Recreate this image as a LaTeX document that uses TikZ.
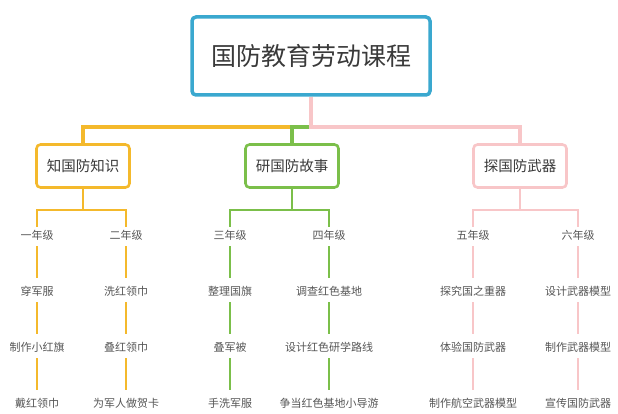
\documentclass[tikz,border=0pt]{standalone}
\usepackage{fontspec}
\setmainfont{Noto Sans CJK SC}
\usetikzlibrary{arrows.meta}
\definecolor{rootblue}{HTML}{3AA8CF}
\definecolor{kgold}{HTML}{F4B92C}
\definecolor{sgreen}{HTML}{7BBF4A}
\definecolor{wpink}{HTML}{F8C6C8}
\definecolor{txtgray}{HTML}{3A3A3A}
\definecolor{leafgray}{HTML}{555555}
\tikzset{%
  % Specifications for style of nodes:
            base1/.style = {rectangle, rounded corners=4pt, fill=white,
                           minimum width=93pt, minimum height=43pt,
                           text centered, text=txtgray, line width=2.6pt,
                           font=\fontsize{14.5pt}{16pt}\selectfont},
       rootbox/.style = {base1, draw=rootblue, minimum width=238pt,
                           minimum height=78pt, line width=3.5pt,
                           font=\fontsize{25pt}{28pt}\selectfont},
       goldbox/.style = {base1, draw=kgold},
       greenbox/.style = {base1, draw=sgreen},
       pinkbox/.style = {base1, draw=wpink},
       leaf/.style = {inner sep=3pt, text=leafgray,
                           font=\fontsize{11pt}{13pt}\selectfont},
  % Specifications for style of lines:
       goldtrunk/.style = {draw=kgold, line width=4pt},
       greentrunk/.style = {draw=sgreen, line width=4pt},
       pinktrunk/.style = {draw=wpink, line width=4pt},
       goldfork/.style = {draw=kgold, line width=2pt},
       greenfork/.style = {draw=sgreen, line width=2pt},
       pinkfork/.style = {draw=wpink, line width=2pt},
       goldleaf/.style = {goldfork, line width=1.5pt, shorten <=3pt, shorten >=5pt},
       greenleaf/.style = {greenfork, line width=1.5pt, shorten <=3pt, shorten >=5pt},
       pinkleaf/.style = {pinkfork, line width=1.5pt, shorten <=3pt, shorten >=5pt}
}
\begin{document}
\begin{tikzpicture}[x=1pt, y=-1pt, node distance=56pt]
  \useasboundingbox (0,0) rectangle (618,414);
  % Specification of nodes (position, etc.)
  \node (course)      [rootbox] at (311,56) {国防教育劳动课程};
  \node (know)        [goldbox] at (83,166) {知国防知识};
  \node (story)       [greenbox] at (292,166) {研国防故事};
  \node (arms)        [pinkbox] at (520,166) {探国防武器};
  \coordinate (hub)       at (311,127);
  \coordinate (knowfork)  at (83,210);
  \coordinate (storyfork) at (292,210);
  \coordinate (armsfork)  at (520,210);
  % grade columns
  \node (g1)          [leaf] at (37,235) {一年级};
  \node (g1a)         [leaf, below of = g1] {穿军服};
  \node (g1b)         [leaf, below of = g1a] {制作小红旗};
  \node (g1c)         [leaf, below of = g1b] {戴红领巾};
  \node (g2)          [leaf] at (126,235) {二年级};
  \node (g2a)         [leaf, below of = g2] {洗红领巾};
  \node (g2b)         [leaf, below of = g2a] {叠红领巾};
  \node (g2c)         [leaf, below of = g2b] {为军人做贺卡};
  \node (g3)          [leaf] at (230,235) {三年级};
  \node (g3a)         [leaf, below of = g3] {整理国旗};
  \node (g3b)         [leaf, below of = g3a] {叠军被};
  \node (g3c)         [leaf, below of = g3b] {手洗军服};
  \node (g4)          [leaf] at (329,235) {四年级};
  \node (g4a)         [leaf, below of = g4] {调查红色基地};
  \node (g4b)         [leaf, below of = g4a] {设计红色研学路线};
  \node (g4c)         [leaf, below of = g4b] {争当红色基地小导游};
  \node (g5)          [leaf] at (473,235) {五年级};
  \node (g5a)         [leaf, below of = g5] {探究国之重器};
  \node (g5b)         [leaf, below of = g5a] {体验国防武器};
  \node (g5c)         [leaf, below of = g5b] {制作航空武器模型};
  \node (g6)          [leaf] at (578,235) {六年级};
  \node (g6a)         [leaf, below of = g6] {设计武器模型};
  \node (g6b)         [leaf, below of = g6a] {制作武器模型};
  \node (g6c)         [leaf, below of = g6b] {宣传国防武器};
  % trunk lines
  \draw[goldtrunk]    (course) -- (hub) -| (know);
  \draw[greentrunk]   (course) -- (hub) -| (story);
  \draw[pinktrunk]    (course) -- (hub) -| (arms);
  % forks
  \draw[goldfork]     (know) -- (knowfork) -| (g1);
  \draw[goldfork]     (knowfork) -| (g2);
  \draw[greenfork]    (story) -- (storyfork) -| (g3);
  \draw[greenfork]    (storyfork) -| (g4);
  \draw[pinkfork]     (arms) -- (armsfork) -| (g5);
  \draw[pinkfork]     (armsfork) -| (g6);
  % leaf lines
  \draw[goldleaf]     (g1) -- (g1a);
  \draw[goldleaf]     (g1a) -- (g1b);
  \draw[goldleaf]     (g1b) -- (g1c);
  \draw[goldleaf]     (g2) -- (g2a);
  \draw[goldleaf]     (g2a) -- (g2b);
  \draw[goldleaf]     (g2b) -- (g2c);
  \draw[greenleaf]    (g3) -- (g3a);
  \draw[greenleaf]    (g3a) -- (g3b);
  \draw[greenleaf]    (g3b) -- (g3c);
  \draw[greenleaf]    (g4) -- (g4a);
  \draw[greenleaf]    (g4a) -- (g4b);
  \draw[greenleaf]    (g4b) -- (g4c);
  \draw[pinkleaf]     (g5) -- (g5a);
  \draw[pinkleaf]     (g5a) -- (g5b);
  \draw[pinkleaf]     (g5b) -- (g5c);
  \draw[pinkleaf]     (g6) -- (g6a);
  \draw[pinkleaf]     (g6a) -- (g6b);
  \draw[pinkleaf]     (g6b) -- (g6c);
\end{tikzpicture}
\end{document}
